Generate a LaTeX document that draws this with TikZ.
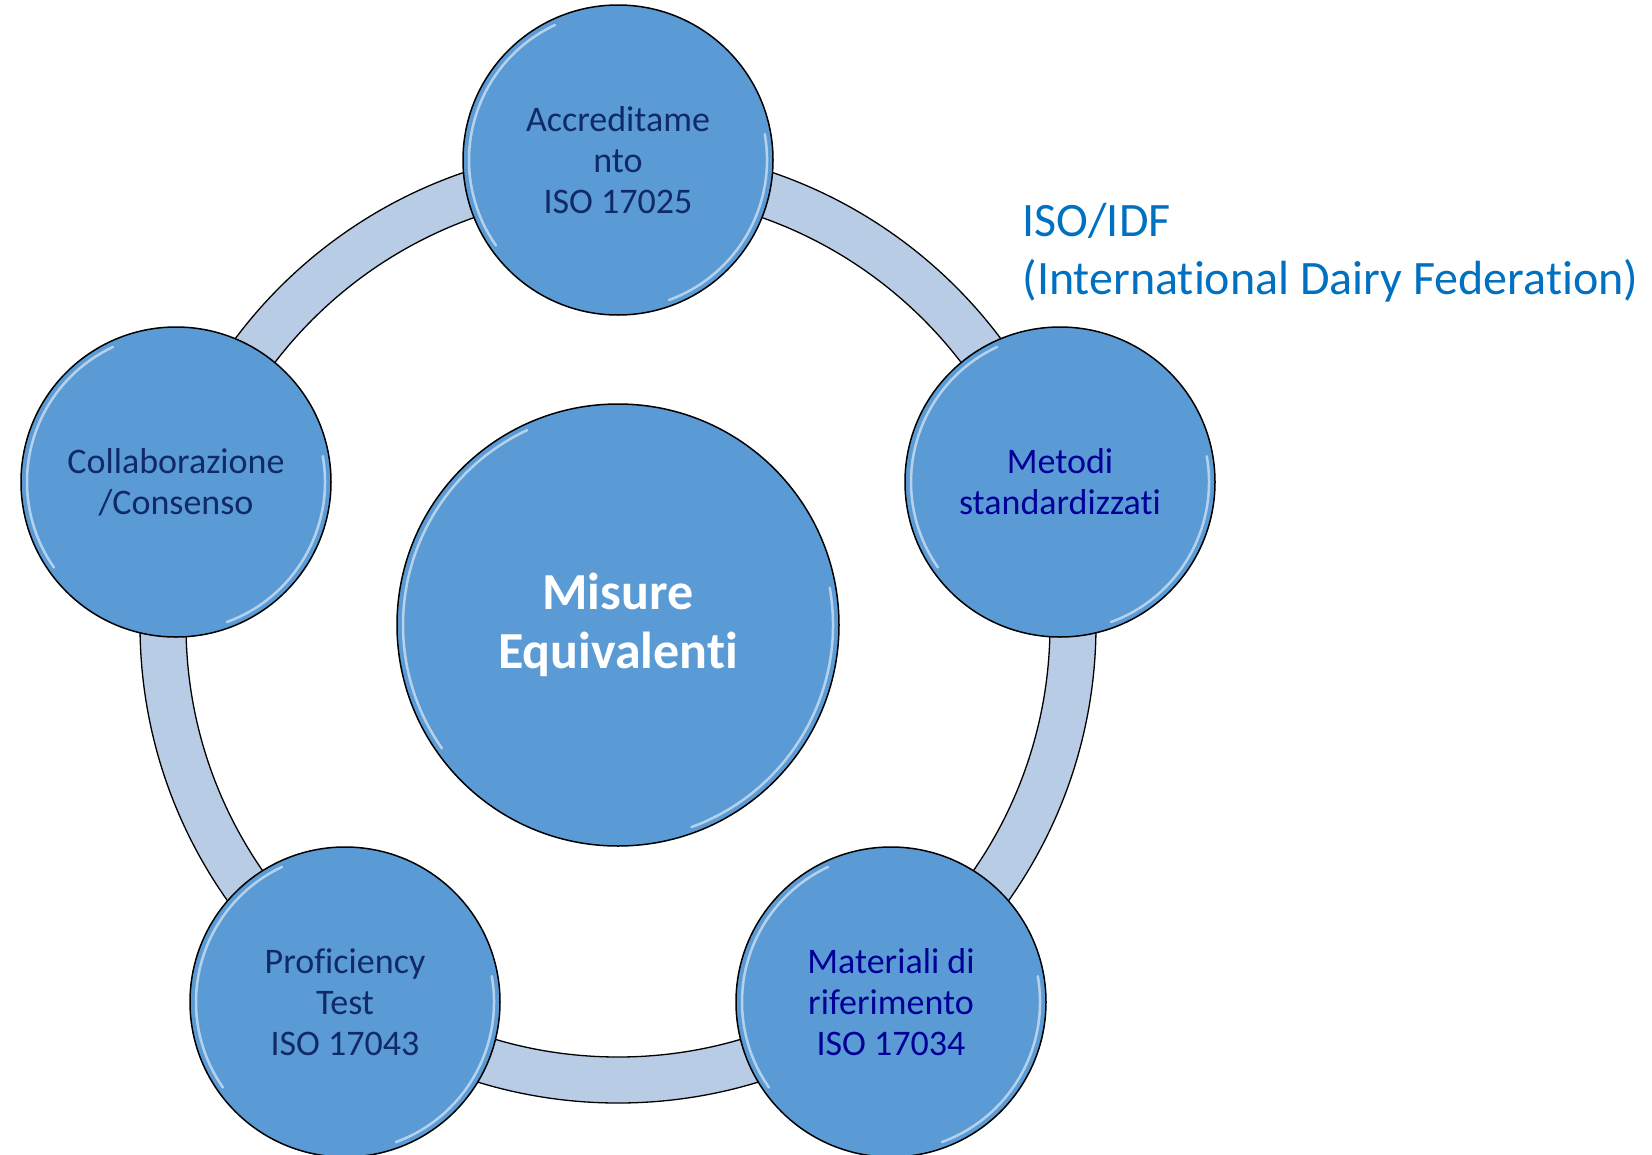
\documentclass[tikz,border=0pt]{standalone}
\usepackage{fontspec}
\setmainfont{Carlito}[Ligatures={NoCommon}]
\definecolor{bubble}{RGB}{91,155,213}
\definecolor{band}{RGB}{184,204,230}
\definecolor{navy}{RGB}{16,42,104}
\definecolor{deepblue}{RGB}{0,0,150}
\definecolor{idfblue}{RGB}{0,112,192}

\begin{document}
\begin{tikzpicture}[x=1pt, y=-1pt,
    bubble/.style={circle, draw=black, line width=1.5pt, fill=bubble, minimum size=310pt, inner sep=0pt, align=center, font=\fontsize{36}{41}\selectfont},
    hub/.style={bubble, minimum size=442pt, text=white, font=\bfseries\fontsize{52}{59}\selectfont},
    shine/.style={white, opacity=.55, line width=2.5pt, line cap=round}
  ]
  \useasboundingbox (0,0) rectangle (1652,1154);
  \coordinate (mid) at (618,625);

  % Ring
  \fill[band, even odd rule] (mid) circle (478pt) (mid) circle (432pt);
  \draw[line width=1.3pt] (mid) circle (478pt) (mid) circle (432pt);

  % Centre and satellites
  \node[hub] (hub) at (mid) {Misure\\Equivalenti};
  \node[bubble, text=navy] (acc) at (618,160) {Accreditame\\nto\\ISO 17025};
  \node[bubble, text=deepblue] (met) at (1060,482) {Metodi\\standardizzati};
  \node[bubble, text=deepblue] (mat) at (891,1002) {Materiali di\\riferimento\\ISO 17034};
  \node[bubble, text=navy] (pro) at (345,1002) {Proficiency\\Test\\ISO 17043};
  \node[bubble, text=navy] (col) at (176,482) {Collaborazione\\/Consenso};

  % Bevel highlights
  \foreach \n/\r in {acc/149, met/149, mat/149, pro/149, col/149, hub/215} {
    \draw[shine] ([shift={(115:\r pt)}]\n.center) arc[start angle=115, end angle=215, radius=\r pt];
    \draw[shine] ([shift={(-70:\r pt)}]\n.center) arc[start angle=-70, end angle=10, radius=\r pt];
  }

  % Label
  \node[anchor=west, align=left, text=idfblue, font=\fontsize{48}{58}\selectfont] (idf) at (1019,253) {ISO/IDF\\(International Dairy Federation)};
\end{tikzpicture}
\end{document}
